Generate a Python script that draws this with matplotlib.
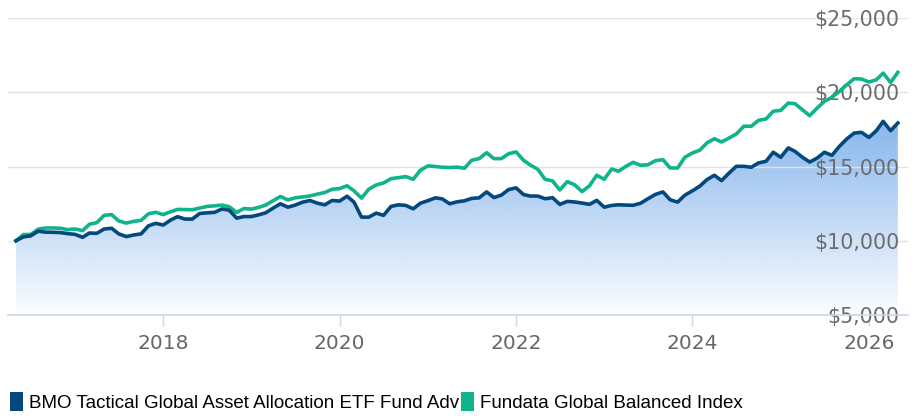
import numpy as np
import pandas as pd
import matplotlib
matplotlib.use('Agg')
import matplotlib.pyplot as plt
import matplotlib.dates as mdates
from matplotlib.patches import Patch

# monthly growth of $10,000
dates = pd.date_range('2016-05-01', periods=121, freq='MS')

fund = [10000, 10260, 10330, 10640, 10580, 10570, 10550, 10480, 10430, 10230,
        10520, 10500, 10790, 10840, 10460, 10280, 10390, 10460, 11010, 11170,
        11060, 11400, 11620, 11460, 11460, 11840, 11880, 11910, 12140, 12060,
        11520, 11630, 11630, 11750, 11880, 12200, 12490, 12260, 12400, 12600,
        12710, 12530, 12420, 12710, 12670, 13000, 12600, 11590, 11590, 11860,
        11710, 12310, 12420, 12380, 12150, 12530, 12700, 12890, 12820, 12490,
        12620, 12690, 12850, 12890, 13290, 12910, 13070, 13450, 13560, 13110,
        13010, 13010, 12830, 12900, 12450, 12650, 12610, 12540, 12450, 12720,
        12260, 12380, 12420, 12400, 12390, 12530, 12830, 13120, 13290, 12760,
        12600, 13070, 13360, 13680, 14110, 14410, 14050, 14560, 15010, 15010,
        14950, 15240, 15350, 15960, 15620, 16250, 16020, 15620, 15300, 15570,
        15960, 15750, 16360, 16850, 17250, 17300, 16960, 17410, 18040, 17410,
        17930]

index = [10000, 10420, 10420, 10780, 10860, 10860, 10840, 10750, 10790, 10680,
         11110, 11220, 11710, 11760, 11330, 11190, 11310, 11370, 11820, 11910,
         11760, 11960, 12110, 12100, 12090, 12200, 12310, 12350, 12400, 12290,
         11910, 12170, 12130, 12250, 12400, 12700, 12980, 12750, 12890, 12950,
         13020, 13140, 13250, 13470, 13510, 13700, 13360, 12870, 13470, 13760,
         13890, 14180, 14250, 14320, 14140, 14750, 15040, 15000, 14950, 14930,
         14960, 14880, 15420, 15530, 15930, 15530, 15530, 15860, 15980, 15420,
         15100, 14810, 14140, 14030, 13420, 13980, 13760, 13310, 13700, 14410,
         14140, 14830, 14680, 15010, 15280, 15080, 15120, 15390, 15460, 14900,
         14900, 15620, 15910, 16100, 16580, 16870, 16650, 16920, 17190, 17710,
         17710, 18110, 18200, 18720, 18780, 19270, 19230, 18820, 18420, 18940,
         19390, 19660, 20060, 20500, 20910, 20890, 20690, 20840, 21290, 20660,
         21340]

names = ['BMO Tactical Global Asset Allocation ETF Fund Adv',
         'Fundata Global Balanced Index']
colors = ['#03497e', '#0fb48a']

years = [2018, 2020, 2022, 2024, 2026]
yticks = [5000, 10000, 15000, 20000, 25000]

fig = plt.figure(figsize=(9.18, 4.16), dpi=100)
ax = fig.add_axes([8 / 918, 1 - 315 / 416, 900 / 918, 297 / 416])

x = mdates.date2num(dates)
x0 = mdates.date2num(pd.Timestamp('2016-03-29'))
x1 = mdates.date2num(pd.Timestamp('2026-06-12'))
ax.set_xlim(x0, x1)
ax.set_ylim(5000, 25000)

# gradient area under the fund line
poly = ax.fill_between(x, fund, 5000, color='none', lw=0)
alpha = np.linspace(1.0, 0.02, 256)
img = np.zeros((256, 1, 4))
img[:, 0, 0] = 74 / 255
img[:, 0, 1] = 144 / 255
img[:, 0, 2] = 226 / 255
img[:, 0, 3] = alpha
im = ax.imshow(img, extent=[x0, x1, 5000, 25000], aspect='auto',
               origin='upper', zorder=1)
im.set_clip_path(poly.get_paths()[0], transform=ax.transData)

ax.plot(x, index, color=colors[1], lw=2.6, zorder=2, solid_joinstyle='round')
ax.plot(x, fund, color=colors[0], lw=2.6, zorder=2, solid_joinstyle='round')

ax.grid(axis='y', color='#e3e3e3', lw=1)
ax.grid(axis='x', visible=False)
for s in ['top', 'left', 'right']:
    ax.spines[s].set_visible(False)
ax.spines['bottom'].set_color('#ccd6eb')
ax.spines['bottom'].set_linewidth(1.2)

ax.set_xticks(mdates.date2num([pd.Timestamp(f'{y}-01-01') for y in years]))
ax.set_xticklabels([str(y) for y in years])
ax.tick_params(axis='x', length=8, width=1, color='#ccd6eb',
               labelcolor='#666666', labelsize=14.5, pad=6)

ax.yaxis.tick_right()
ax.set_yticks(yticks)
ax.set_yticklabels([f'${v:,}' for v in yticks])
ax.tick_params(axis='y', length=0, pad=-6, labelcolor='#6b6b6b', labelsize=14.8)
for lbl in ax.get_yticklabels():
    lbl.set_horizontalalignment('right')

handles = [Patch(facecolor=c, edgecolor='none') for c in colors]
fig.legend(handles, names, loc='lower left', bbox_to_anchor=(-0.003, -0.022), ncol=2,
           frameon=False, handlelength=0.7, handleheight=1.15, handletextpad=0.3,
           columnspacing=0.1, borderaxespad=0.3,
           prop={'family': ['Liberation Sans'], 'size': 13.5})

fig.savefig('out.png', dpi=100)
